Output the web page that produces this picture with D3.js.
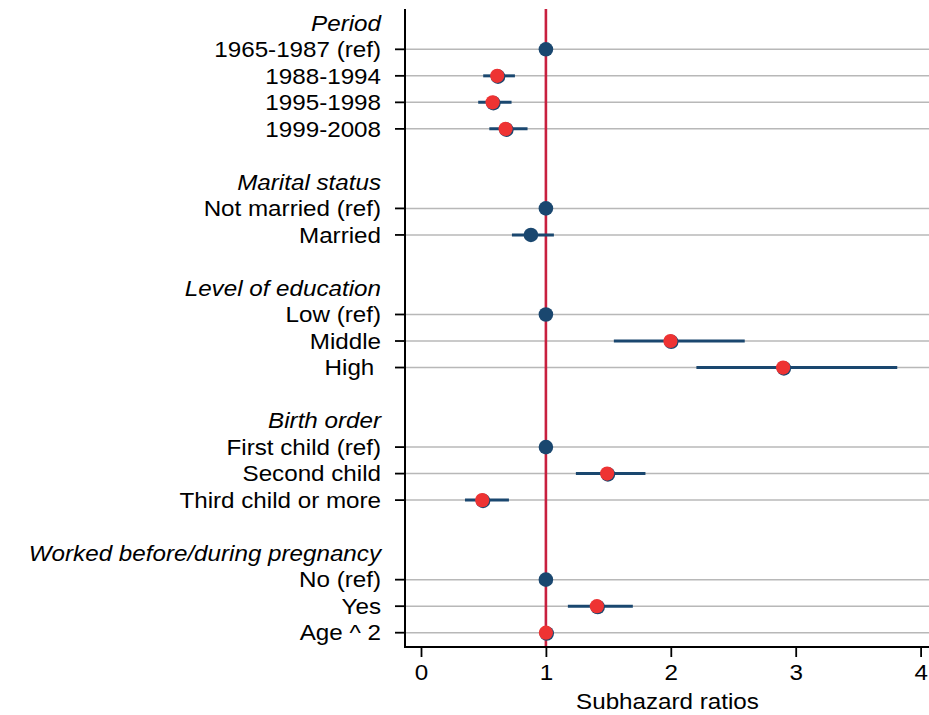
<!DOCTYPE html>
<html>
<head>
<meta charset="utf-8">
<script src="https://cdn.jsdelivr.net/npm/d3@7"></script>
<style>
  html, body { margin: 0; padding: 0; background: #fff; }
  svg { display: block; }
  text { font-family: "Liberation Sans", Arial, sans-serif; white-space: pre; }
</style>
</head>
<body>
<svg id="chart" width="929" height="715"></svg>
<script>
// ---- data ----
const rowLabels = [
  "Period", "1965-1987 (ref)", "1988-1994", "1995-1998", "1999-2008", "",
  "Marital status", "Not married (ref)", "Married", "",
  "Level of education", "Low (ref)", "Middle", "High ", "",
  "Birth order", "First child (ref)", "Second child", "Third child or more", "",
  "Worked before/during pregnancy", "No (ref)", "Yes", "Age ^ 2"
];
const headerRows = [0, 6, 10, 15, 20];
const estimates = [null, 1, 0.61, 0.573, 0.677, null,
  null, 1, 0.88, null,
  null, 1, 1.997, 2.899, null,
  null, 1, 1.49, 0.49, null,
  null, 1, 1.408, 1.0];
const ciLower = [null, null, 0.498, 0.458, 0.547, null,
  null, null, 0.728, null,
  null, null, 1.544, 2.205, null,
  null, null, 1.24, 0.352, null,
  null, null, 1.176, 0.99];
const ciUpper = [null, null, 0.752, 0.725, 0.853, null,
  null, null, 1.064, null,
  null, null, 2.592, 3.813, null,
  null, null, 1.797, 0.704, null,
  null, null, 1.696, 1.0];
const significant = [false, false, true, true, true, false,
  false, false, false, false,
  false, false, true, true, false,
  false, false, true, true, false,
  false, false, true, true];
const xTicks = [0, 1, 2, 3, 4];
const referenceValue = 1;
const xTitle = "Subhazard ratios";

// ---- layout ----
const svg = d3.select("#chart");
const W = 929;
const axisLeft = 405, axisBottom = 647, axisTop = 9;
const labelRight = 381;
const hScale = 1.1;
const fontSize = 22;
const navy = "#1a476f", redFill = "#ee3333", refLine = "#c8203f", grid = "#b8b8b8";

const idx = d3.range(rowLabels.length);
const x = d3.scaleLinear().domain([0, 4]).range([421, 920.6]);
const y = d3.scalePoint().domain(idx).range([22.8, 632.7]);

const dataRows = idx.filter(i => rowLabels[i] !== "" && !headerRows.includes(i));

// gridlines
svg.append("g").selectAll("line").data(dataRows).join("line")
  .attr("x1", axisLeft).attr("x2", W)
  .attr("y1", d => y(d)).attr("y2", d => y(d))
  .attr("stroke", grid).attr("stroke-width", 1.5);

// reference line
svg.append("line")
  .attr("x1", x(referenceValue)).attr("x2", x(referenceValue))
  .attr("y1", axisTop).attr("y2", axisBottom)
  .attr("stroke", refLine).attr("stroke-width", 2.6);

// y axis line + ticks
svg.append("line").attr("x1", axisLeft).attr("x2", axisLeft)
  .attr("y1", axisTop).attr("y2", axisBottom + 1)
  .attr("stroke", "#000").attr("stroke-width", 2);
svg.append("g").selectAll("line").data(dataRows).join("line")
  .attr("x1", axisLeft - 10).attr("x2", axisLeft)
  .attr("y1", d => y(d)).attr("y2", d => y(d))
  .attr("stroke", "#000").attr("stroke-width", 1.8);

// row labels
const lab = svg.append("g").selectAll("g").data(idx.filter(i => rowLabels[i] !== "")).join("g")
  .attr("transform", d => `translate(${labelRight},${y(d)})`);
lab.append("text")
  .attr("transform", `scale(${hScale},1)`)
  .attr("text-anchor", "end")
  .attr("dy", "0.35em")
  .attr("font-size", fontSize)
  .attr("font-style", d => headerRows.includes(d) ? "italic" : "normal")
  .attr("fill", "#000")
  .text(d => rowLabels[d]);

// x axis
const xAxis = svg.append("g")
  .attr("transform", `translate(0,${axisBottom})`)
  .call(d3.axisBottom(x).tickValues(xTicks).tickFormat(d3.format("d")).tickSize(10).tickSizeOuter(0));
xAxis.select(".domain").remove();
xAxis.selectAll(".tick line").attr("stroke", "#000").attr("stroke-width", 1.8);
xAxis.selectAll(".tick text")
  .attr("font-family", "Liberation Sans, Arial, sans-serif")
  .attr("font-size", fontSize)
  .attr("fill", "#000")
  .attr("y", 0).attr("dy", 0)
  .attr("transform", `translate(0,33) scale(${hScale},1)`);
svg.append("line").attr("x1", axisLeft - 1).attr("x2", W)
  .attr("y1", axisBottom).attr("y2", axisBottom)
  .attr("stroke", "#000").attr("stroke-width", 2);

// axis title
svg.append("g").attr("transform", `translate(${(axisLeft + W) / 2 + 0.5},709)`)
  .append("text").attr("transform", `scale(${hScale},1)`)
  .attr("text-anchor", "middle").attr("font-size", fontSize).attr("fill", "#000")
  .text(xTitle);

// CI lines
const ciRows = idx.filter(i => ciLower[i] != null);
svg.append("g").selectAll("line").data(ciRows).join("line")
  .attr("x1", d => x(ciLower[d])).attr("x2", d => x(ciUpper[d]))
  .attr("y1", d => y(d)).attr("y2", d => y(d))
  .attr("stroke", navy).attr("stroke-width", 3);

// points
const ptRows = idx.filter(i => estimates[i] != null);
svg.append("g").selectAll("circle").data(ptRows).join("circle")
  .attr("cx", d => x(estimates[d]) + (significant[d] ? 0.8 : 0))
  .attr("cy", d => y(d) + (significant[d] ? 0.8 : 0))
  .attr("r", 7.3)
  .attr("fill", navy);
svg.append("g").selectAll("circle").data(ptRows.filter(d => significant[d])).join("circle")
  .attr("cx", d => x(estimates[d]))
  .attr("cy", d => y(d))
  .attr("r", 7.1)
  .attr("fill", redFill);
</script>
</body>
</html>
